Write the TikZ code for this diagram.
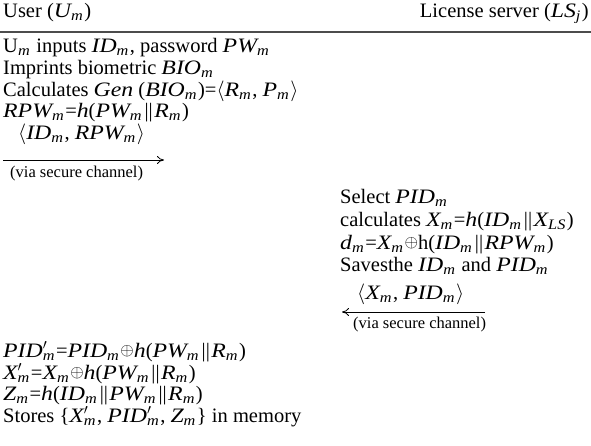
\documentclass[tikz,border=0pt]{standalone}
\usepackage{fontspec}
\setmainfont{Liberation Serif}
\usetikzlibrary{arrows.meta}
\newcommand\sm[1]{{\fontsize{14.5}{15}\selectfont\raisebox{-3pt}{\itshape\addfontfeature{FakeStretch=1.12}#1}}\kern1.5pt\relax}
\newcommand\iv[1]{{\itshape\addfontfeature{FakeStretch=1.16}#1}}
\newcommand\smp[1]{\rlap{$'$}\sm{#1}}
\newcommand\lan{$\langle$}
\newcommand\ran{$\rangle$}
\newcommand\xor{\raisebox{1.2pt}{\fontsize{17}{17}\selectfont$\oplus$}}
\newcommand\cc{\kern1.5pt||\kern1.5pt\relax}
\tikzset{
  txt/.style={anchor=base west, inner sep=0pt, font=\fontsize{20.5}{22}\selectfont},
  small/.style={anchor=base west, inner sep=0pt, font=\fontsize{16.5}{18}\selectfont},
  msg/.style={-{To[length=7pt,width=8pt]}, line width=0.8pt},
  rule/.style={line width=1.5pt, draw=black!70}
}
\begin{document}
\begin{tikzpicture}[x=1pt,y=-1pt]
\useasboundingbox (0,0) rectangle (591,446);
% header
\node[txt] (user) at (3,18) {User (\iv{U}\sm{m})};
\node[txt, anchor=base east] (ls) at (589,18) {License server (\iv{LS}\sm{j})};
\coordinate (r1) at (0,32);
\coordinate (r2) at (591,32);
\draw[rule] (r1) -- (r2);
% user block
\node[txt] (u1) at (3,53) {U\sm{m} inputs \iv{ID}\sm{m}, password \iv{PW}\sm{m}};
\node[txt] (u2) at (3,75) {Imprints biometric \iv{BIO}\sm{m}};
\node[txt] (u3) at (3,97) {Calculates \iv{Gen} (\iv{BIO}\sm{m})=\lan\iv{R}\sm{m}, \iv{P}\sm{m}\ran};
\node[txt] (u4) at (3,118) {\iv{RPW}\sm{m}=\iv{h}(\iv{PW}\sm{m}\cc\iv{R}\sm{m})};
\node[txt] (m1) at (18,140) {\lan\iv{ID}\sm{m}, \iv{RPW}\sm{m}\ran};
\coordinate (a1s) at (3,160);
\coordinate (a1e) at (164,160);
\draw[msg] (a1s) -- (a1e);
\node[small] (v1) at (10,178) {(via secure channel)};
% server block
\node[txt] (s1) at (340,204) {Select \iv{PID}\sm{m}};
\node[txt] (s2) at (340,226) {calculates \iv{X}\sm{m}=\iv{h}(\iv{ID}\sm{m}\cc\iv{X}\sm{LS})};
\node[txt] (s3) at (340,249) {\iv{d}\sm{m}=\iv{X}\sm{m}\xor h(\iv{ID}\sm{m}\cc\iv{RPW}\sm{m})};
\node[txt] (s4) at (340,271) {Savesthe \iv{ID}\sm{m} and \iv{PID}\sm{m}};
\node[txt] (m2) at (357,299) {\lan\iv{X}\sm{m}, \iv{PID}\sm{m}\ran};
\coordinate (a2s) at (485,312);
\coordinate (a2e) at (342,312);
\draw[msg] (a2s) -- (a2e);
\node[small] (v2) at (353,328) {(via secure channel)};
% user final
\node[txt] (f1) at (3,357) {\iv{PID}\smp{m}=\iv{PID}\sm{m}\xor\iv{h}(\iv{PW}\sm{m}\cc\iv{R}\sm{m})};
\node[txt] (f2) at (3,379) {\iv{X}\smp{m}=\iv{X}\sm{m}\xor\iv{h}(\iv{PW}\sm{m}\cc\iv{R}\sm{m})};
\node[txt] (f3) at (3,400) {\iv{Z}\sm{m}=\iv{h}(\iv{ID}\sm{m}\cc\iv{PW}\sm{m}\cc\iv{R}\sm{m})};
\node[txt] (f4) at (3,422) {Stores \{\iv{X}\smp{m}, \iv{PID}\smp{m}, \iv{Z}\sm{m}\} in memory};
\end{tikzpicture}
\end{document}
